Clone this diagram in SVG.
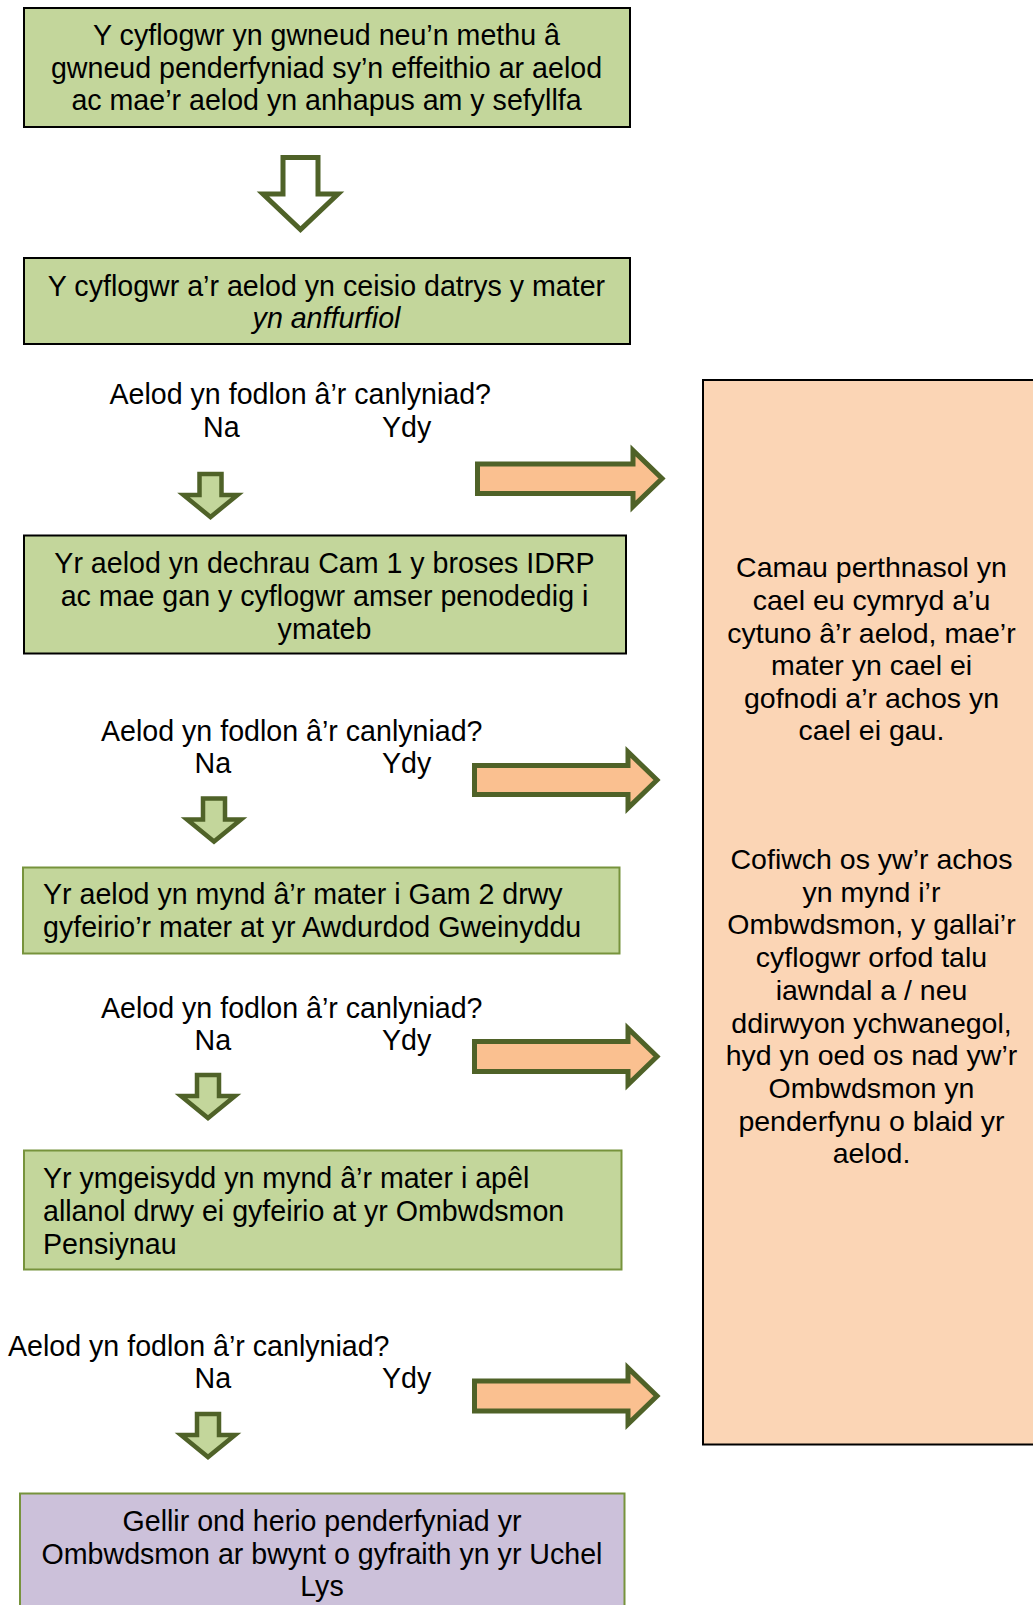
<svg xmlns="http://www.w3.org/2000/svg" width="1033" height="1605" viewBox="0 0 1033 1605">
  <style>
    .t { font-family: "Liberation Sans", Arial, sans-serif; font-size: 28.6px; fill: #000; }
    .r { font-family: "Liberation Sans", Arial, sans-serif; font-size: 28.5px; fill: #000; }
    .c { text-anchor: middle; }
    .gbox { fill: #C3D69B; stroke: #000; stroke-width: 2; }
    .gbox2 { fill: #C3D69B; stroke: #77933C; stroke-width: 2; }
    .pbox { fill: #CCC1DA; stroke: #77933C; stroke-width: 2; }
    .obox { fill: #FBD5B5; stroke: #000; stroke-width: 2; }
    .hollow { fill: #FFFFFF; stroke: #4F6228; stroke-width: 5; stroke-linejoin: miter; }
    .down { fill: #C3D69B; stroke: #4F6228; stroke-width: 4.5; stroke-linejoin: miter; }
    .right { fill: #FAC090; stroke: #4F6228; stroke-width: 5; stroke-linejoin: miter; }
  </style>
  <rect width="1033" height="1605" fill="#FFFFFF"/>

  <g id="node-start">
    <rect class="gbox" x="24" y="8" width="606" height="119"/>
    <text class="t c" x="326.5" y="45">Y cyflogwr yn gwneud neu’n methu â</text>
    <text class="t c" x="326.5" y="77.5">gwneud penderfyniad sy’n effeithio ar aelod</text>
    <text class="t c" x="326.5" y="109.5">ac mae’r aelod yn anhapus am y sefyllfa</text>
  </g>

  <g id="node-informal">
    <rect class="gbox" x="24" y="258" width="606" height="86"/>
    <text class="t c" x="326.5" y="296">Y cyflogwr a’r aelod yn ceisio datrys y mater</text>
    <text class="t c" x="326.5" y="328" font-style="italic">yn anffurfiol</text>
  </g>

  <g id="q1">
    <text class="t" x="109.5" y="404">Aelod yn fodlon â’r canlyniad?</text>
    <text class="t" x="203" y="437">Na</text>
    <text class="t" x="382" y="437">Ydy</text>
  </g>

  <g id="node-stage1">
    <rect class="gbox" x="24" y="535.5" width="602" height="118"/>
    <text class="t c" x="324.5" y="572.5">Yr aelod yn dechrau Cam 1 y broses IDRP</text>
    <text class="t c" x="324.5" y="605.5">ac mae gan y cyflogwr amser penodedig i</text>
    <text class="t c" x="324.5" y="638.5">ymateb</text>
  </g>

  <g id="q2">
    <text class="t" x="101" y="740.5">Aelod yn fodlon â’r canlyniad?</text>
    <text class="t" x="194.5" y="773">Na</text>
    <text class="t" x="382" y="773">Ydy</text>
  </g>

  <g id="node-stage2">
    <rect class="gbox2" x="23" y="867.5" width="596.5" height="86"/>
    <text class="t" x="43" y="903.5">Yr aelod yn mynd â’r mater i Gam 2 drwy</text>
    <text class="t" x="43" y="936.5">gyfeirio’r mater at yr Awdurdod Gweinyddu</text>
  </g>

  <g id="q3">
    <text class="t" x="101" y="1017.5">Aelod yn fodlon â’r canlyniad?</text>
    <text class="t" x="194.5" y="1050">Na</text>
    <text class="t" x="382" y="1050">Ydy</text>
  </g>

  <g id="node-ombudsman">
    <rect class="gbox2" x="24" y="1150.5" width="597.5" height="119"/>
    <text class="t" x="43" y="1188">Yr ymgeisydd yn mynd â’r mater i apêl</text>
    <text class="t" x="43" y="1221">allanol drwy ei gyfeirio at yr Ombwdsmon</text>
    <text class="t" x="43" y="1253.5">Pensiynau</text>
  </g>

  <g id="q4">
    <text class="t" x="8" y="1356">Aelod yn fodlon â’r canlyniad?</text>
    <text class="t" x="194.5" y="1387.5">Na</text>
    <text class="t" x="382" y="1387.5">Ydy</text>
  </g>

  <g id="node-highcourt">
    <rect class="pbox" x="20" y="1493.5" width="604.5" height="130"/>
    <text class="t c" x="322" y="1531">Gellir ond herio penderfyniad yr</text>
    <text class="t c" x="322" y="1563.5">Ombwdsmon ar bwynt o gyfraith yn yr Uchel</text>
    <text class="t c" x="322" y="1596">Lys</text>
  </g>

  <g id="node-closed">
    <rect class="obox" x="703" y="380" width="340" height="1064.5"/>
    <text class="r c" x="871.5" y="577.3">Camau perthnasol yn</text>
    <text class="r c" x="871.5" y="609.9">cael eu cymryd a’u</text>
    <text class="r c" x="871.5" y="642.5">cytuno â’r aelod, mae’r</text>
    <text class="r c" x="871.5" y="675.1">mater yn cael ei</text>
    <text class="r c" x="871.5" y="707.7">gofnodi a’r achos yn</text>
    <text class="r c" x="871.5" y="740.3">cael ei gau.</text>
    <text class="r c" x="871.5" y="869">Cofiwch os yw’r achos</text>
    <text class="r c" x="871.5" y="901.7">yn mynd i’r</text>
    <text class="r c" x="871.5" y="934.4">Ombwdsmon, y gallai’r</text>
    <text class="r c" x="871.5" y="967.1">cyflogwr orfod talu</text>
    <text class="r c" x="871.5" y="999.8">iawndal a / neu</text>
    <text class="r c" x="871.5" y="1032.5">ddirwyon ychwanegol,</text>
    <text class="r c" x="871.5" y="1065.2">hyd yn oed os nad yw’r</text>
    <text class="r c" x="871.5" y="1097.9">Ombwdsmon yn</text>
    <text class="r c" x="871.5" y="1130.6">penderfynu o blaid yr</text>
    <text class="r c" x="871.5" y="1163.3">aelod.</text>
  </g>

  <g id="connectors">
    <polygon class="hollow" points="283,157.5 318,157.5 318,194 338,194 300.5,229.5 263,194 283,194"/>
    <polygon class="down" points="199.5,474 221.5,474 221.5,495 237.5,495 210.5,517 183.5,495 199.5,495"/>
    <polygon class="down" points="203,798.5 225,798.5 225,819.5 241,819.5 214,841.5 187,819.5 203,819.5"/>
    <polygon class="down" points="197,1075 219,1075 219,1096 235,1096 208,1118 181,1096 197,1096"/>
    <polygon class="down" points="197,1414 219,1414 219,1435 235,1435 208,1457 181,1435 197,1435"/>
    <polygon class="right" points="477.5,464 633,464 633,450.5 662,478.5 633,506.5 633,493.5 477.5,493.5"/>
    <polygon class="right" points="474.5,765.5 628,765.5 628,752 657,780 628,808 628,794.5 474.5,794.5"/>
    <polygon class="right" points="474.5,1041.5 628,1041.5 628,1028.5 657,1056.5 628,1084.5 628,1071.5 474.5,1071.5"/>
    <polygon class="right" points="474.5,1381 628,1381 628,1368 657,1396 628,1424 628,1411 474.5,1411"/>
  </g>
</svg>
